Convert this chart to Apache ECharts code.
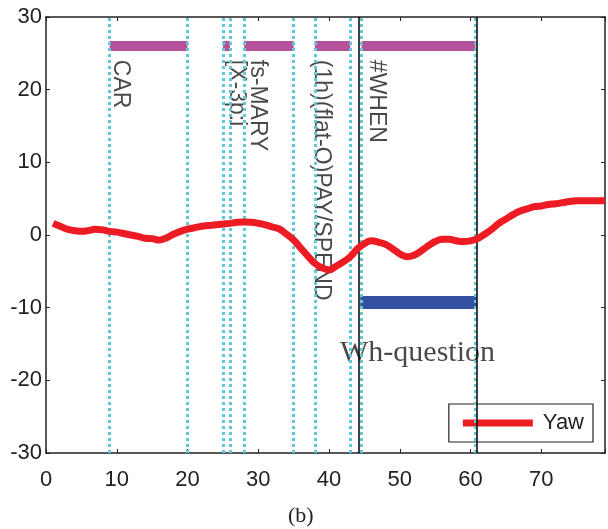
<!DOCTYPE html>
<html>
<head>
<meta charset="utf-8">
<script src="https://cdn.jsdelivr.net/npm/echarts@6/dist/echarts.min.js"></script>
<style>
  html, body { margin: 0; padding: 0; background: #fff; }
  #board { width: 608px; height: 529px; }
</style>
</head>
<body>
<div id="board"></div>
<script>
// yaw curve
let yawX = [1,2,3,4,5,6,7,8,9,10,11,12,13,14,15,16,17,18,19,20,21,22,23,24,25,26,27,28,29,30,
  31,32,33,34,35,36,37,38,39,40,41,42,43,44,45,46,47,48,49,50,51,52,53,54,55,56,57,58,59,60,
  61,62,63,64,65,66,67,68,69,70,71,72,73,74,75,76,77,78,79]
let yawY = [1.6,1.2,0.8,0.6,0.5,0.6,0.8,0.7,0.5,0.4,0.2,0,-0.2,-0.45,-0.5,-0.7,-0.4,0.1,0.5,0.8,
  1.0,1.2,1.3,1.4,1.5,1.6,1.75,1.8,1.75,1.6,1.4,1.1,0.8,0.1,-0.7,-1.8,-2.9,-3.9,-4.5,-4.8,
  -4.3,-3.7,-3.0,-1.9,-1.2,-0.8,-1.0,-1.3,-1.9,-2.6,-3.0,-2.8,-2.2,-1.5,-0.9,-0.6,-0.6,-0.8,-0.9,-0.8,
  -0.5,0.1,0.8,1.6,2.2,2.8,3.3,3.6,3.9,4.0,4.2,4.3,4.45,4.6,4.7,4.7,4.7,4.7,4.7]

// annotation boundaries
let dottedX = [9, 20, 25, 26, 28, 35, 38, 43, 44.6, 60.7]
let solidX = [44.2, 60.9]

// gloss segments (magenta) and the Wh-question span (blue)
let glossStart = [9, 25, 28, 38, 44.6]
let glossEnd = [20, 26, 35, 43, 60.7]
let glossLevel = 26
let whStart = 44.4
let whEnd = 60.9
let whLevel = -9.3

// rotated gloss words
let glossWords = ['CAR', '[X-3p:i', 'fs-MARY', '(1h)(flat-O)PAY/SPEND', '#WHEN']
let glossWordX = [10.5, 26.9, 29.9, 38.9, 46.7]
let glossWordY = 24.1

let whText = 'Wh-question'
let whTextPos = [52.5, -16.2]

let myChart = echarts.init(document.getElementById('board'))

let series = []

series.push({
  name: 'dotted',
  type: 'line',
  data: [],
  silent: true,
  markLine: {
    symbol: 'none',
    silent: true,
    label: { show: false },
    lineStyle: { color: '#5fc9d8', width: 3, type: [3, 3] },
    data: dottedX.map(v => ({ xAxis: v }))
  }
})

series.push({
  name: 'solid',
  type: 'line',
  data: [],
  silent: true,
  markLine: {
    symbol: 'none',
    silent: true,
    label: { show: false },
    lineStyle: { color: '#111', width: 1.6, type: 'solid' },
    data: solidX.map(v => ({ xAxis: v }))
  }
})

glossStart.forEach((s, i) => {
  series.push({
    name: 'gloss' + i,
    type: 'line',
    symbol: 'none',
    silent: true,
    lineStyle: { color: '#b6529c', width: 10, cap: 'butt' },
    data: [[s, glossLevel], [glossEnd[i], glossLevel]]
  })
})

series.push({
  name: 'wh',
  type: 'line',
  symbol: 'none',
  silent: true,
  lineStyle: { color: '#3451a1', width: 13, cap: 'butt' },
  data: [[whStart, whLevel], [whEnd, whLevel]]
})

series.push({
  name: 'words',
  type: 'scatter',
  symbolSize: 0,
  silent: true,
  data: glossWords.map((w, i) => ({ value: [glossWordX[i], glossWordY], name: w })),
  label: {
    show: true,
    position: 'inside',
    formatter: p => p.name,
    rotate: -90,
    align: 'left',
    verticalAlign: 'middle',
    fontFamily: 'Liberation Sans',
    fontSize: 23,
    color: '#1a1a1a'
  }
})

series.push({
  name: 'whLabel',
  type: 'scatter',
  symbolSize: 0,
  silent: true,
  data: [{ value: whTextPos, name: whText }],
  label: {
    show: true,
    position: 'inside',
    formatter: p => p.name,
    fontFamily: 'Liberation Serif',
    fontSize: 30,
    color: '#1a1a1a'
  }
})

series.push({
  name: 'Yaw',
  type: 'line',
  symbol: 'none',
  smooth: 0.4,
  z: 5,
  lineStyle: { color: '#ed1c24', width: 7 },
  itemStyle: { color: '#ed1c24' },
  data: yawX.map((x, i) => [x, yawY[i]])
})

let axisCommon = {
  type: 'value',
  splitLine: { show: false },
  axisLine: { show: true, onZero: false, lineStyle: { color: '#222', width: 1.5 } },
  axisTick: { show: true, inside: true, length: 4, lineStyle: { color: '#222' } }
}

myChart.setOption({
  animation: false,
  title: {
    text: '(b)',
    left: 283,
    top: 500,
    textStyle: { fontFamily: 'Liberation Serif', fontSize: 22, fontWeight: 'normal', color: '#222' }
  },
  legend: {
    data: [{ name: 'Yaw', icon: 'rect' }],
    right: 15,
    top: 404,
    itemWidth: 70,
    itemHeight: 7,
    itemGap: 10,
    padding: [8, 9, 8, 14],
    borderColor: '#222',
    borderWidth: 1.2,
    borderRadius: 0,
    textStyle: { fontFamily: 'Liberation Sans', fontSize: 22, color: '#222', padding: [0, 0, 0, 5] }
  },
  grid: { left: 46, right: 2, top: 17, bottom: 76 },
  xAxis: [
    Object.assign({}, axisCommon, {
      min: 0, max: 79, interval: 10, position: 'bottom',
      axisLabel: { margin: 16, fontFamily: 'Liberation Sans', fontSize: 22, color: '#222',
        formatter: v => (v > 70 ? '' : v) }
    }),
    Object.assign({}, axisCommon, {
      min: 0, max: 79, interval: 10, position: 'top',
      axisLabel: { show: false }
    })
  ],
  yAxis: [
    Object.assign({}, axisCommon, {
      min: -30, max: 30, interval: 10, position: 'left',
      axisLabel: { margin: 4, fontFamily: 'Liberation Sans', fontSize: 22, color: '#222' }
    }),
    Object.assign({}, axisCommon, {
      min: -30, max: 30, interval: 10, position: 'right',
      axisLabel: { show: false }
    })
  ],
  series: series
})
</script>
</body>
</html>
